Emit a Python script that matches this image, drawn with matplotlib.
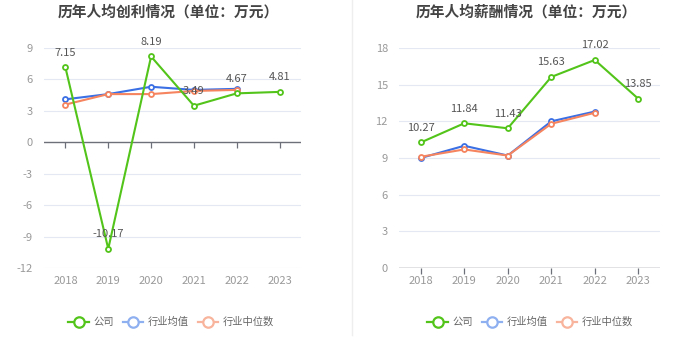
import matplotlib
matplotlib.use("Agg")
import matplotlib.pyplot as plt
from matplotlib.lines import Line2D

plt.rcParams['font.family'] = ['Noto Sans CJK SC', 'DejaVu Sans']

years = ["2018", "2019", "2020", "2021", "2022", "2023"]

profit_company = [7.15, -10.17, 8.19, 3.49, 4.67, 4.81]
profit_mean = [4.1, 4.6, 5.3, 5.0, 5.1]
profit_median = [3.6, 4.6, 4.6, 4.9, 5.0]
profit_ticks = [-12, -9, -6, -3, 0, 3, 6, 9]

salary_company = [10.27, 11.84, 11.43, 15.63, 17.02, 13.85]
salary_mean = [9.0, 10.0, 9.2, 12.0, 12.8]
salary_median = [9.1, 9.7, 9.2, 11.8, 12.7]
salary_ticks = [0, 3, 6, 9, 12, 15, 18]

titles = ["历年人均创利情况（单位：万元）", "历年人均薪酬情况（单位：万元）"]
legend_names = ["公司", "行业均值", "行业中位数"]

GREEN = "#52c41a"
BLUE = "#3b6fe4"
ORANGE = "#f5845f"
BLUE_L = "#8fb0f0"
ORANGE_L = "#f8b49c"

fig = plt.figure(figsize=(7, 3.6), dpi=100)

axes_pos = [
    [44 / 700, 92 / 360, 257 / 700, 220 / 360],
    [399 / 700, 92 / 360, 261 / 700, 220 / 360],
]
datasets = [
    (profit_company, profit_mean, profit_median, profit_ticks),
    (salary_company, salary_mean, salary_median, salary_ticks),
]
title_x = [168 / 700, 526 / 700]
legend_x = [171 / 700, 530 / 700]

for i, (comp, mean, med, ticks) in enumerate(datasets):
    ax = fig.add_axes(axes_pos[i])
    x = list(range(len(years)))
    ax.set_xlim(-0.5, len(years) - 0.5)
    ax.set_ylim(ticks[0], ticks[-1])
    ax.set_yticks(ticks)
    ax.set_yticklabels([str(t) for t in ticks])
    ax.set_xticks(x)
    ax.set_xticklabels(years)
    for t in ticks:
        if t != 0:
            ax.axhline(t, color="#e3e8f3", lw=0.8, zorder=0)
    ax.axhline(0, color="#6e7079", lw=1.0, zorder=1)
    for s in ax.spines.values():
        s.set_visible(False)
    ax.tick_params(axis="y", length=0, labelsize=8, labelcolor="#999999", pad=8)
    ax.tick_params(axis="x", length=0, labelsize=8, labelcolor="#999999", pad=6)
    ax.plot(x, [0] * len(x), linestyle="none", marker=3, markersize=4,
            color="#6e7079", markeredgewidth=0.9, zorder=1, clip_on=False)

    mk = dict(marker="o", markersize=3.6, markerfacecolor="white", markeredgewidth=1.3)
    ax.plot(x[:len(mean)], mean, color=BLUE, lw=1.5, markeredgecolor=BLUE, zorder=3, **mk)
    ax.plot(x[:len(med)], med, color=ORANGE, lw=1.5, markeredgecolor=ORANGE, zorder=3, **mk)
    ax.plot(x, comp, color=GREEN, lw=1.5, markeredgecolor=GREEN, zorder=4, **mk)
    for xi, v in zip(x, comp):
        ax.annotate(f"{v:.2f}", (xi, v), xytext=(0, 7), textcoords="offset points",
                    ha="center", va="bottom", fontsize=8, color="#555555", zorder=5)

    fig.text(title_x[i], 1 - 12 / 360, titles[i], ha="center", va="center",
             fontsize=10.6, fontweight="bold", color="#444444")

    handles = [
        Line2D([], [], color=GREEN, lw=1.6, marker="o", markersize=7.5,
               markerfacecolor="white", markeredgewidth=1.6, markeredgecolor=GREEN),
        Line2D([], [], color=BLUE_L, lw=1.6, marker="o", markersize=7.5,
               markerfacecolor="white", markeredgewidth=1.6, markeredgecolor=BLUE_L),
        Line2D([], [], color=ORANGE_L, lw=1.6, marker="o", markersize=7.5,
               markerfacecolor="white", markeredgewidth=1.6, markeredgecolor=ORANGE_L),
    ]
    leg = fig.legend(handles, legend_names, loc="center",
                     bbox_to_anchor=(legend_x[i], 1 - 322 / 360), ncol=3, frameon=False,
                     fontsize=7.4, handlelength=2.0, handletextpad=0.4, columnspacing=0.9)
    for t in leg.get_texts():
        t.set_color("#666666")

fig.add_artist(Line2D([352 / 700, 352 / 700], [1 - 335 / 360, 1.0], color="#eeeeee", lw=1.0))

fig.savefig("out.png", dpi=100, facecolor="white")
